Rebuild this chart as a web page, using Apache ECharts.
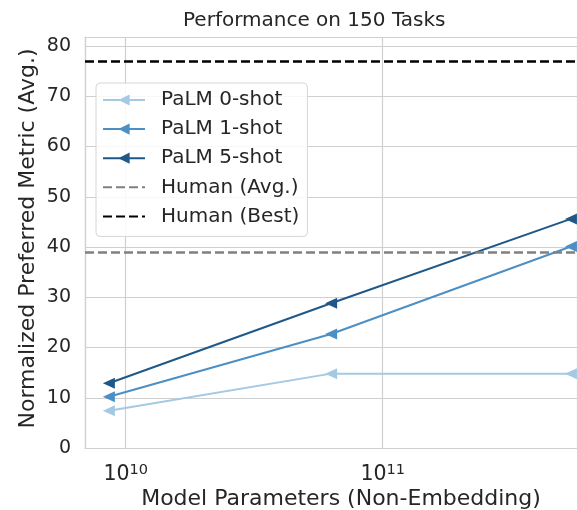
<!DOCTYPE html>
<html>
<head>
<meta charset="utf-8">
<script src="https://cdn.jsdelivr.net/npm/echarts@6/dist/echarts.min.js"></script>
<style>
html,body{margin:0;padding:0;background:#fff;}
#chart{width:577px;height:510px;}
</style>
</head>
<body>
<div id="chart"></div>
<script>
// Data
const params = [8.6e9, 6.3e10, 5.4e11];
const zeroShot = [7.4, 14.8, 14.8];
const oneShot = [10.2, 22.7, 40.1];
const fiveShot = [12.9, 28.8, 45.6];
const humanAvg = 39.0;
const humanBest = 77.0;
const yTicks = [0, 10, 20, 30, 40, 50, 60, 70, 80];

const FONT = 'DejaVu Sans';
const TXT = '#262626';
const GRIDC = '#d0d0d0';
const DASH = [9, 4];

function pairs(vals) { return params.map((p, i) => [p, vals[i]]); }

function palmSeries(name, vals, color) {
  return {
    name: name, type: 'line', data: pairs(vals),
    symbol: 'triangle', symbolSize: [11, 12], symbolRotate: 90,
    lineStyle: { color: color, width: 2 },
    itemStyle: { color: color },
    z: 3
  };
}
function humanSeries(name, val, color) {
  return {
    name: name, type: 'line', data: [],
    symbol: 'circle', symbolSize: 0,
    lineStyle: { color: color, width: 2.5, type: DASH },
    itemStyle: { color: color },
    markLine: {
      silent: true, symbol: 'none', label: { show: false },
      lineStyle: { color: color, width: 2.5, type: DASH },
      data: [{ yAxis: val }]
    },
    z: 4
  };
}

const hiddenSym = { color: 'transparent', borderColor: 'transparent', borderWidth: 0 };

const chart = echarts.init(document.getElementById('chart'), null, { renderer: 'canvas' });
chart.setOption({
  animation: false,
  backgroundColor: '#fff',
  textStyle: { fontFamily: FONT },
  title: {
    text: 'Performance on 150 Tasks',
    left: 178, top: 6,
    textStyle: { fontFamily: FONT, fontSize: 20, fontWeight: 'normal', color: TXT }
  },
  grid: {
    left: 85, right: 0, top: 37, bottom: 62,
    show: false, containLabel: false, outerBoundsMode: 'none'
  },
  legend: {
    orient: 'vertical', left: 96, top: 83,
    padding: [7, 8, 10, 6],
    itemWidth: 42, itemHeight: 14, itemGap: 9.1,
    backgroundColor: 'rgba(255,255,255,0.85)',
    borderColor: '#d6d6d6', borderWidth: 1, borderRadius: 4,
    textStyle: { fontFamily: FONT, fontSize: 20, color: TXT, padding: [0, 0, 0, 11] },
    data: [
      { name: 'PaLM 0-shot' },
      { name: 'PaLM 1-shot' },
      { name: 'PaLM 5-shot' },
      { name: 'Human (Avg.)', itemStyle: hiddenSym },
      { name: 'Human (Best)', itemStyle: hiddenSym }
    ]
  },
  xAxis: [{
    type: 'log', logBase: 10,
    min: 6.945e9, max: 5.70e11,
    name: 'Model Parameters (Non-Embedding)',
    nameLocation: 'middle', nameGap: 40, nameMoveOverlap: false,
    nameTextStyle: { fontFamily: FONT, fontSize: 22, color: TXT, padding: [0, 0, 0, 20] },
    axisLine: { show: true, lineStyle: { color: GRIDC, width: 1.2 } },
    axisTick: { show: false },
    splitLine: { show: true, lineStyle: { color: GRIDC, width: 1.2 } },
    minorTick: { show: false },
    axisLabel: {
      showMinLabel: false, showMaxLabel: false, margin: 15,
      formatter: function (v) {
        const e = Math.round(Math.log10(v));
        return '{b|10}{s|' + e + '}';
      },
      rich: {
        b: { fontFamily: FONT, fontSize: 20.5, color: TXT },
        s: { fontFamily: FONT, fontSize: 14.5, color: TXT, verticalAlign: 'bottom', padding: [0, 0, 9, 0] }
      }
    }
  }, {
    type: 'value', position: 'top', min: 0, max: 1,
    axisLine: { show: true, onZero: false, lineStyle: { color: GRIDC, width: 1.2 } },
    axisTick: { show: false }, axisLabel: { show: false }, splitLine: { show: false }
  }],
  yAxis: {
    type: 'value', min: 0, max: 81.8, interval: 10,
    name: 'Normalized Preferred Metric (Avg.)',
    nameLocation: 'middle', nameGap: 46, nameMoveOverlap: false,
    nameTextStyle: { fontFamily: FONT, fontSize: 22, color: TXT, padding: [0, 0, 0, 8] },
    axisLine: { show: true, lineStyle: { color: GRIDC, width: 1.2 } },
    axisTick: { show: false },
    splitLine: { show: true, lineStyle: { color: GRIDC, width: 1.2 } },
    axisLabel: {
      showMaxLabel: false, margin: 14,
      fontFamily: FONT, fontSize: 19, color: TXT,
      formatter: function (v) { return yTicks.indexOf(v) >= 0 ? String(v) : ''; }
    }
  },
  series: [
    palmSeries('PaLM 0-shot', zeroShot, '#a3c9e3'),
    palmSeries('PaLM 1-shot', oneShot, '#4b8fc4'),
    palmSeries('PaLM 5-shot', fiveShot, '#1f5888'),
    humanSeries('Human (Avg.)', humanAvg, '#808080'),
    humanSeries('Human (Best)', humanBest, '#000000')
  ]
});
</script>
</body>
</html>
